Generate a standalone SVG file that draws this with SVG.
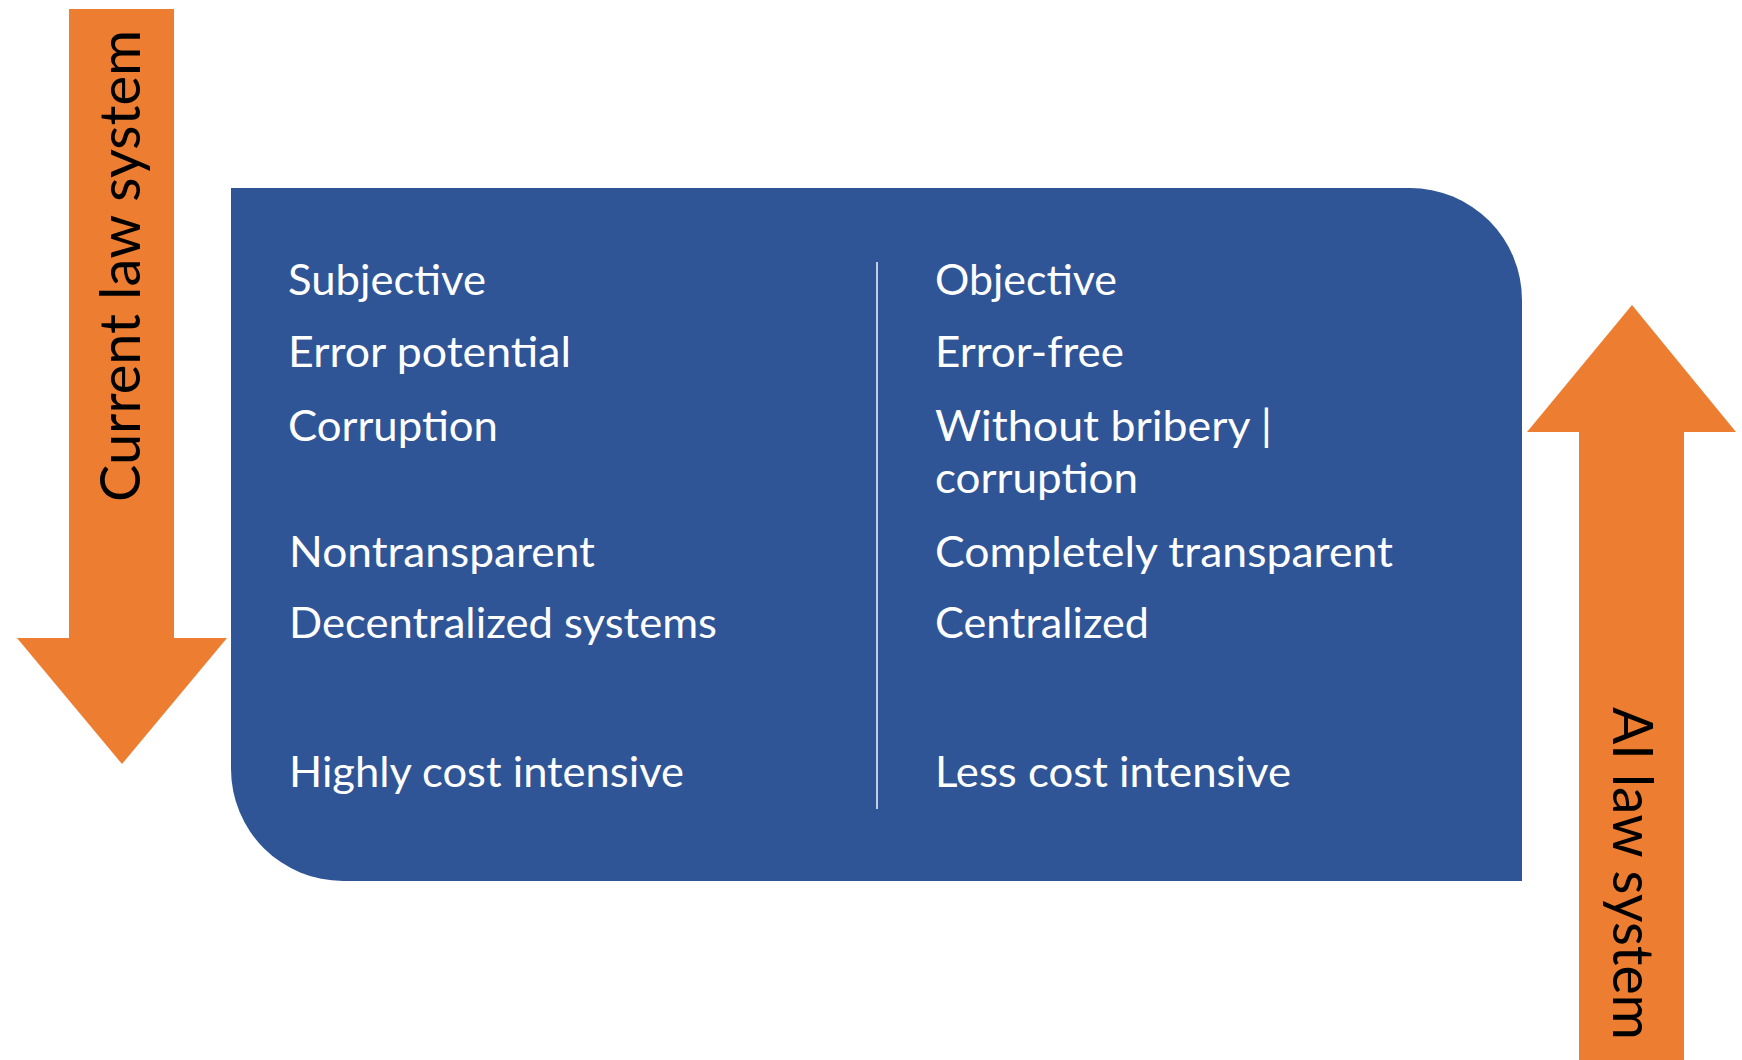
<svg xmlns="http://www.w3.org/2000/svg" width="1742" height="1060" viewBox="0 0 1742 1060">
<style>
.arrow{fill:#ED7D31;}
.box{fill:#2F5597;}
.item{font-family:Lato,"Open Sans","Liberation Sans",sans-serif;font-size:43px;fill:#FFFFFF;}
.vlabel{font-family:Lato,"Open Sans","Liberation Sans",sans-serif;font-size:56px;fill:#000000;}
.divider{stroke:#C3CCE2;stroke-width:2;}
</style>
<rect width="1742" height="1060" fill="#FFFFFF"/>
<g id="panel">
<path class="box" d="M231,188 H1410 A112,112 0 0 1 1522,300 V881 H343 A112,112 0 0 1 231,769 Z"/>
</g>
<g id="current-arrow">
<polygon class="arrow" points="69,9 174,9 174,638 227,638 122,764 17,638 69,638"/>
<text class="vlabel" transform="translate(140,502) rotate(-90)" x="0" y="0" textLength="472" lengthAdjust="spacingAndGlyphs">Current law system</text>
</g>
<g id="ai-arrow">
<polygon class="arrow" points="1632,305 1736,432 1684,432 1684,1060 1579,1060 1579,432 1527,432"/>
<text class="vlabel" transform="translate(1613,707) rotate(90)" x="0" y="0" textLength="333" lengthAdjust="spacingAndGlyphs">AI law system</text>
</g>
<g id="connectors">
<line class="divider" x1="877" y1="262" x2="877" y2="809"/>
</g>
<g id="current-list">
<text class="item" x="288" y="295" textLength="198" lengthAdjust="spacingAndGlyphs">Subjective</text>
<text class="item" x="288" y="367" textLength="283" lengthAdjust="spacingAndGlyphs">Error potential</text>
<text class="item" x="288" y="441" textLength="210" lengthAdjust="spacingAndGlyphs">Corruption</text>
<text class="item" x="289" y="567" textLength="306" lengthAdjust="spacingAndGlyphs">Nontransparent</text>
<text class="item" x="289" y="638" textLength="428" lengthAdjust="spacingAndGlyphs">Decentralized systems</text>
<text class="item" x="289" y="787" textLength="395" lengthAdjust="spacingAndGlyphs">Highly cost intensive</text>
</g>
<g id="ai-list">
<text class="item" x="935" y="295" textLength="182" lengthAdjust="spacingAndGlyphs">Objective</text>
<text class="item" x="935" y="367" textLength="189" lengthAdjust="spacingAndGlyphs">Error-free</text>
<text class="item" x="935" y="441" textLength="337" lengthAdjust="spacingAndGlyphs">Without bribery |</text>
<text class="item" x="935" y="493" textLength="203" lengthAdjust="spacingAndGlyphs">corruption</text>
<text class="item" x="935" y="567" textLength="458" lengthAdjust="spacingAndGlyphs">Completely transparent</text>
<text class="item" x="935" y="638" textLength="214" lengthAdjust="spacingAndGlyphs">Centralized</text>
<text class="item" x="935" y="787" textLength="356" lengthAdjust="spacingAndGlyphs">Less cost intensive</text>
</g>
</svg>
